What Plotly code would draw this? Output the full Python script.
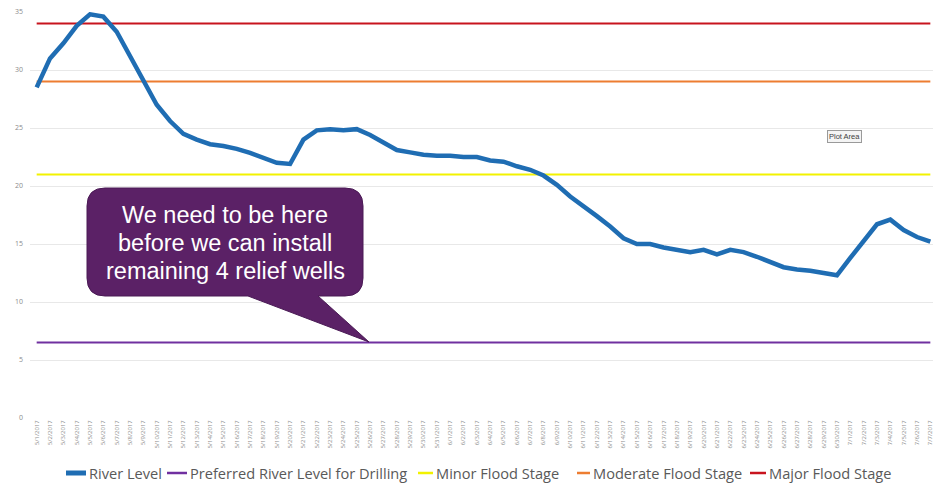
import datetime as dt
import plotly.graph_objects as go

# Daily dates, 5/1/2017 .. 7/7/2017
start = dt.date(2017, 5, 1)
dates = [f"{d.month}/{d.day}/{d.year}" for d in (start + dt.timedelta(days=i) for i in range(68))]

river_level = [
    28.5, 31.0, 32.3, 33.8, 34.8, 34.6, 33.3, 31.2, 28.9, 27.0,
    25.6, 24.5, 24.0, 23.6, 23.45, 23.2, 22.85, 22.4, 22.0, 21.9,
    24.0, 24.8, 24.9, 24.8, 24.9, 24.4, 23.8, 23.1, 22.9, 22.7,
    22.6, 22.6, 22.5, 22.5, 22.2, 22.1, 21.7, 21.4, 20.9, 20.1,
    19.1, 18.3, 17.4, 16.5, 15.5, 15.0, 15.0, 14.7, 14.5, 14.3,
    14.5, 14.1, 14.5, 14.3, 13.9, 13.4, 13.0, 12.8, 12.7, 12.5,
    12.3, 13.8, 15.2, 16.7, 17.1, 16.2, 15.6, 15.2,
]
preferred_level = [6.5] * len(dates)
minor_flood = [21] * len(dates)
moderate_flood = [29] * len(dates)
major_flood = [34] * len(dates)

y_ticks = [0, 5, 10, 15, 20, 25, 30, 35]

W, H = 933, 485
ML, MR, MT, MB = 30, 0, 12, 67
PW, PH = W - ML - MR, H - MT - MB


def px(x):
    return (x - ML) / PW


def py(y):
    return (H - MB - y) / PH


fig = go.Figure()

series = [
    # name, values, colour, width, legend symbol x-range, legend text x
    ("Preferred River Level for Drilling", preferred_level, "#7030a0", 2, (167, 187), 188),
    ("Minor Flood Stage", minor_flood, "#f2f200", 2, (418, 433), 434),
    ("Moderate Flood Stage", moderate_flood, "#ed7d31", 2, (577, 590), 591),
    ("Major Flood Stage", major_flood, "#c8141e", 2, (750, 766), 767),
    ("River Level", river_level, "#1f6db3", 4.5, (66, 86), 87),
]
for name, vals, color, width, _, _ in series:
    fig.add_trace(go.Scatter(
        x=dates, y=vals, name=name, mode="lines",
        line=dict(color=color, width=width), showlegend=False,
    ))

# Legend drawn below the axis: short line sample followed by the series name
LEG_Y = 473
for name, _, color, width, (sx0, sx1), tx in series:
    fig.add_shape(
        type="line", xref="paper", yref="paper",
        x0=px(sx0), x1=px(sx1), y0=py(LEG_Y), y1=py(LEG_Y),
        line=dict(color=color, width=width + 0.5),
    )
    fig.add_annotation(
        x=px(tx), y=py(LEG_Y), xref="paper", yref="paper", text=name,
        showarrow=False, xanchor="left", yanchor="middle",
        font=dict(family="Open Sans", size=14.6, color="#595959"),
    )

# Speech-bubble callout
bx0, bx1, by0, by1, r = 87, 363, 188, 296, 18
tail = [(318, 296), (369, 342), (248, 296)]
pts = [f"M {px(bx0 + r)},{py(by0)}",
       f"L {px(bx1 - r)},{py(by0)}",
       f"Q {px(bx1)},{py(by0)} {px(bx1)},{py(by0 + r)}",
       f"L {px(bx1)},{py(by1 - r)}",
       f"Q {px(bx1)},{py(by1)} {px(bx1 - r)},{py(by1)}"]
for tx, ty in tail:
    pts.append(f"L {px(tx)},{py(ty)}")
pts += [f"L {px(bx0 + r)},{py(by1)}",
        f"Q {px(bx0)},{py(by1)} {px(bx0)},{py(by1 - r)}",
        f"L {px(bx0)},{py(by0 + r)}",
        f"Q {px(bx0)},{py(by0)} {px(bx0 + r)},{py(by0)} Z"]
fig.add_shape(
    type="path", path=" ".join(pts), xref="paper", yref="paper",
    fillcolor="#5b2166", line=dict(color="#4a1a55", width=1), layer="above",
)
callout_lines = ["We need to be here", "before we can install", "remaining 4 relief wells"]
for i, line in enumerate(callout_lines):
    fig.add_annotation(
        x=px((bx0 + bx1) / 2), y=py(215 + 28 * i), xref="paper", yref="paper",
        text=line, showarrow=False, xanchor="center", yanchor="middle",
        font=dict(family="Arial, Liberation Sans", size=23.5, color="white"),
    )

# Small "Plot Area" tag
fig.add_annotation(
    x=px(844), y=py(136), xref="paper", yref="paper", text="Plot Area",
    showarrow=False, xanchor="center", yanchor="middle",
    font=dict(family="Arial", size=7.5, color="#404040"),
    bgcolor="#f4f4f4", bordercolor="#9a9a9a", borderwidth=1, borderpad=1,
)

fig.update_layout(
    width=W, height=H,
    margin=dict(l=ML, r=MR, t=MT, b=MB, autoexpand=False),
    paper_bgcolor="white", plot_bgcolor="white",
    font=dict(family="Open Sans", color="#595959"),
    showlegend=False,
    xaxis=dict(
        type="category", range=[-0.5, 67.2], tickangle=-90,
        tickfont=dict(size=6, color="#8c8c8c"), showgrid=False,
        showline=False, zeroline=False, ticks="", automargin=False,
    ),
    yaxis=dict(
        range=[0, 35], tickvals=y_ticks, tickfont=dict(size=7, color="#8c8c8c"),
        gridcolor="#e8e8e8", gridwidth=1, zeroline=False, showline=False,
        ticks="", ticklabelstandoff=6, automargin=False,
    ),
)

fig.write_html("out.html")
